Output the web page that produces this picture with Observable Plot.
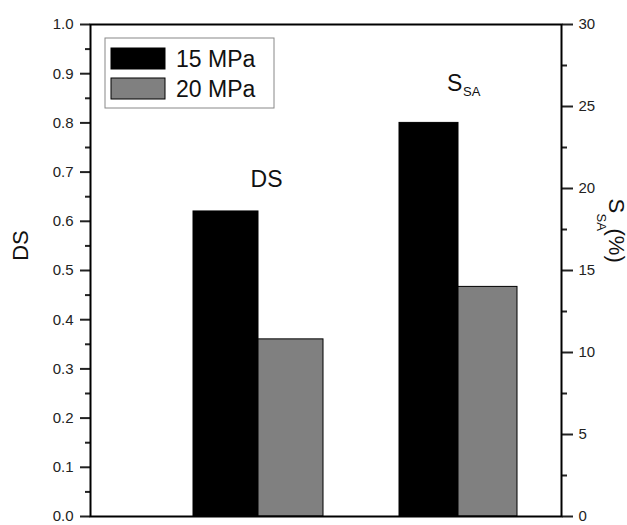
<!DOCTYPE html>
<html><head><meta charset="utf-8">
<script src="https://cdn.jsdelivr.net/npm/d3@7"></script>
<script src="https://cdn.jsdelivr.net/npm/@observablehq/plot@0.6"></script>
<style>
html,body{margin:0;padding:0;background:#fff;}
#chart{position:relative;width:627px;height:525px;}
svg{font-family:"Liberation Sans",Arial,sans-serif;}
</style></head><body><div id="chart"></div>
<script>
// ---- data ----
const groups = ["DS", "S_SA"];
const pressures = ["15 MPa", "20 MPa"];
const dsValues = [0.62, 0.36];      // left axis (DS)
const ssaValues = [24.0, 14.0];     // right axis (S_SA, %)
const dsTicks = [0, 0.1, 0.2, 0.3, 0.4, 0.5, 0.6, 0.7, 0.8, 0.9, 1.0];
const ssaTicks = [0, 5, 10, 15, 20, 25, 30];

// ---- layout / style constants ----
const ssaMax = 30;
const colors = ["#000000", "#808080"];
const groupPos = [1, 2];
const barWidth = [0.325, 0.295];
const W = 627, H = 525;
const font = "'Liberation Sans', Arial, sans-serif";

const rows = [];
groups.forEach((g, gi) => pressures.forEach((p, pi) => {
  const raw = gi === 0 ? dsValues[pi] : ssaValues[pi];
  rows.push({
    group: g, pressure: p, raw,
    y: gi === 0 ? raw : raw / ssaMax,
    x1: pi === 0 ? groupPos[gi] - barWidth[gi] : groupPos[gi],
    x2: pi === 0 ? groupPos[gi] : groupPos[gi] + barWidth[gi]
  });
}));
const dsMinor = dsTicks.slice(0, -1).map(v => v + 0.05);
const ssaMinor = ssaTicks.slice(0, -1).map(v => (v + 2.5) / ssaMax);
const dsTop = rows.filter(r => r.group === "DS" && r.pressure === pressures[0]);
const ssaTop = rows.filter(r => r.group === "S_SA" && r.pressure === pressures[0]);

const plot = Plot.plot({
  width: W, height: H,
  marginLeft: 90, marginRight: 66, marginTop: 24, marginBottom: 9,
  x: {domain: [0.16, 2.515], axis: null},
  y: {domain: [0, 1], axis: null},
  color: {domain: pressures, range: colors},
  style: {fontFamily: font, color: "#222", background: "white", overflow: "visible"},
  marks: [
    Plot.rect(rows, {x1: "x1", x2: "x2", y1: 0, y2: "y", fill: "pressure", stroke: "black", strokeWidth: 1}),
    Plot.axisY({ticks: dsTicks, anchor: "left", tickSize: 10, tickPadding: 7, tickFormat: d3.format(".1f"), strokeWidth: 2, fontSize: 15, label: null}),
    Plot.axisY({ticks: dsMinor, anchor: "left", tickSize: 5, tickFormat: () => "", strokeWidth: 2, label: null}),
    Plot.axisY({ticks: ssaTicks.map(v => v / ssaMax), anchor: "right", tickSize: 11, tickPadding: 6, tickFormat: d => String(Math.round(d * ssaMax)), strokeWidth: 2, fontSize: 15, label: null}),
    Plot.axisY({ticks: ssaMinor, anchor: "right", tickSize: 5, tickFormat: () => "", strokeWidth: 2, label: null}),
    Plot.frame({stroke: "black", strokeWidth: 2}),
    // group annotations
    Plot.text(dsTop, {x: "x2", y: "y", text: d => d.group, dx: 8, dy: -24, lineAnchor: "bottom", fontSize: 23, fill: "#111"}),
    Plot.text(ssaTop, {x: "x2", y: "y", text: () => "S", textAnchor: "start", dx: -11.5, dy: -32, lineAnchor: "bottom", fontSize: 23, fill: "#111"}),
    Plot.text(ssaTop, {x: "x2", y: "y", text: () => "SA", textAnchor: "start", dx: 4.5, dy: -27, lineAnchor: "bottom", fontSize: 13, fill: "#111"}),
    // axis labels
    Plot.text(["DS"], {frameAnchor: "left", text: d => d, rotate: -90, textAnchor: "middle", lineAnchor: "bottom", dx: -63, dy: -25, fontSize: 22, fill: "#111"}),
    Plot.text(["S"], {frameAnchor: "top-right", text: d => d, rotate: 90, textAnchor: "start", lineAnchor: "bottom", dx: 47, dy: 174, fontSize: 22, fill: "#111"}),
    Plot.text(["SA"], {frameAnchor: "top-right", text: d => d, rotate: 90, textAnchor: "start", lineAnchor: "bottom", dx: 35, dy: 189, fontSize: 13, fill: "#111"}),
    Plot.text(["(%)"], {frameAnchor: "top-right", text: d => d, rotate: 90, textAnchor: "start", lineAnchor: "bottom", dx: 47, dy: 204, fontSize: 22, fill: "#111"})
  ]
});

// legend (inside plot area, upper-left)
const color = plot.scale("color");
const svg = d3.select(plot);
const lg = svg.append("g").attr("font-family", font).attr("text-anchor", "start");
lg.append("rect").attr("x", 105).attr("y", 38).attr("width", 169).attr("height", 70)
  .attr("fill", "white").attr("stroke", "#888").attr("stroke-width", 1);
pressures.forEach((p, i) => {
  const y0 = 48 + i * 30;
  lg.append("rect").attr("x", 111).attr("y", y0).attr("width", 54).attr("height", 21)
    .attr("fill", color.apply(p)).attr("stroke", "black").attr("stroke-width", 1);
  lg.append("text").attr("x", 176).attr("y", y0 + 19).attr("font-size", 23).attr("fill", "#111").text(p);
});

document.getElementById("chart").appendChild(plot);
</script></body></html>
